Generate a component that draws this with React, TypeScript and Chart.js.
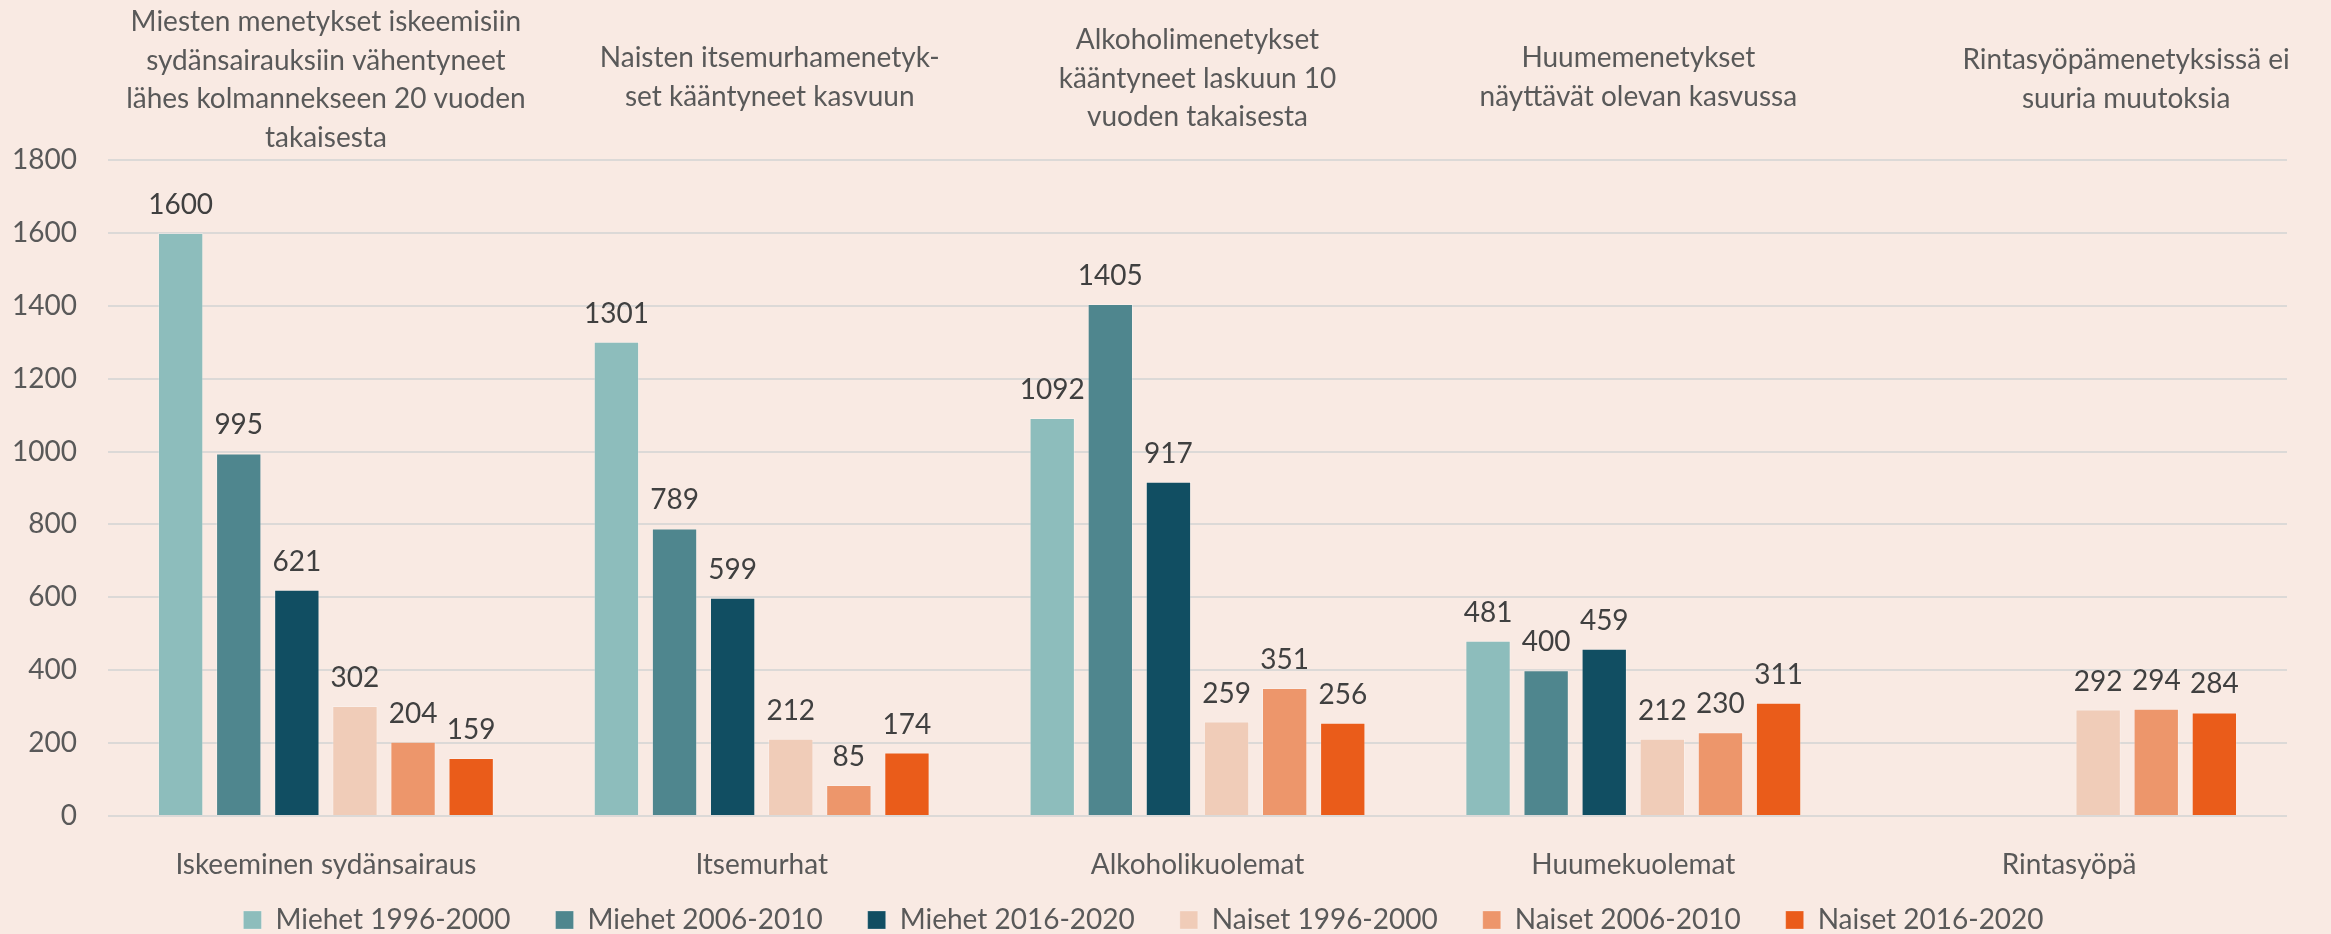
import React, { useEffect, useRef } from "react";
import { Chart, registerables } from "chart.js";

Chart.register(...registerables);

const categories = ["Iskeeminen sydänsairaus", "Itsemurhat", "Alkoholikuolemat", "Huumekuolemat", "Rintasyöpä"];

const seriesNames = [
  "Miehet 1996-2000",
  "Miehet 2006-2010",
  "Miehet 2016-2020",
  "Naiset 1996-2000",
  "Naiset 2006-2010",
  "Naiset 2016-2020",
];

const miehet1996 = [1600, 1301, 1092, 481, null];
const miehet2006 = [995, 789, 1405, 400, null];
const miehet2016 = [621, 599, 917, 459, null];
const naiset1996 = [302, 212, 259, 212, 292];
const naiset2006 = [204, 85, 351, 230, 294];
const naiset2016 = [159, 174, 256, 311, 284];

const seriesColors = ["#8DBDBC", "#4F868E", "#114E62", "#F0CCB8", "#ED966B", "#EA5C1A"];

const yTicks = [0, 200, 400, 600, 800, 1000, 1200, 1400, 1600, 1800];

const notes = [
  ["Miesten menetykset iskeemisiin", "sydänsairauksiin vähentyneet", "lähes kolmannekseen 20 vuoden", "takaisesta"],
  ["Naisten itsemurhamenetyk-", "set kääntyneet kasvuun"],
  ["Alkoholimenetykset", "kääntyneet laskuun 10", "vuoden takaisesta"],
  ["Huumemenetykset", "näyttävät olevan kasvussa"],
  ["Rintasyöpämenetyksissä ei", "suuria muutoksia"],
];

// layout of the note blocks (pixels): x shift from category centre, first baseline
const noteShiftX = [0, 8, 0, 5, 57];
const noteFirstBaseline = [31, 67, 49, 67, 69];
const noteLineHeight = 38.5;

const FONT = "Lato, 'Open Sans', sans-serif";
const FS = 28;
const LEGEND_PAD = 45;

const valueLabels = {
  id: "valueLabels",
  afterDatasetsDraw(chart: any) {
    const ctx = chart.ctx;
    ctx.save();
    ctx.font = `${FS}px ${FONT}`;
    ctx.fillStyle = "#404040";
    ctx.textAlign = "center";
    ctx.textBaseline = "alphabetic";
    chart.data.datasets.forEach((ds: any, di: number) => {
      const meta = chart.getDatasetMeta(di);
      meta.data.forEach((el: any, i: number) => {
        const v = ds.data[i];
        if (v === null || v === undefined) return;
        ctx.fillText(String(v), el.x, el.y - 19);
      });
    });
    ctx.restore();
  },
};

const notesPlugin = {
  id: "notesPlugin",
  afterDraw(chart: any) {
    const ctx = chart.ctx;
    const xs = chart.scales.x;
    ctx.save();
    ctx.font = `${FS}px ${FONT}`;
    ctx.fillStyle = "#595959";
    ctx.textAlign = "center";
    ctx.textBaseline = "alphabetic";
    notes.forEach((lines, i) => {
      const cx = xs.getPixelForValue(i) + noteShiftX[i];
      lines.forEach((t, li) => {
        ctx.fillText(t, cx, noteFirstBaseline[i] + li * noteLineHeight);
      });
    });
    ctx.restore();
  },
};

export default function App() {
  const ref = useRef<HTMLCanvasElement | null>(null);

  useEffect(() => {
    let chart: Chart | null = null;
    let cancelled = false;
    const make = () => {
      if (cancelled || !ref.current) return;
      const allData = [miehet1996, miehet2006, miehet2016, naiset1996, naiset2006, naiset2016];
      chart = new Chart(ref.current, {
        type: "bar",
        data: {
          labels: categories,
          datasets: allData.map((d, i) => ({
            label: seriesNames[i],
            data: d,
            backgroundColor: seriesColors[i],
            borderColor: "rgba(255,255,255,0.25)",
            borderWidth: 1,
            categoryPercentage: 0.8,
            barPercentage: 0.78,
          })),
        },
        options: {
          responsive: false,
          animation: false,
          devicePixelRatio: 1,
          layout: { padding: { top: 160, right: 44, left: 0, bottom: -10 } },
          plugins: {
            tooltip: { enabled: false },
            legend: {
              position: "bottom",
              labels: {
                font: { family: FONT, size: FS },
                color: "#595959",
                boxWidth: 18,
                boxHeight: 18,
                padding: LEGEND_PAD,
              },
            },
          },
          scales: {
            x: {
              grid: { display: false },
              border: { display: false },
              ticks: {
                font: { family: FONT, size: FS },
                color: "#595959",
                padding: 24,
                maxRotation: 0,
                autoSkip: false,
              },
              afterFit: (s: any) => {
                s.height = 90 - LEGEND_PAD;
                // let the category labels extend below the (short) axis box
                s._computeLabelArea = () => undefined;
              },
            },
            y: {
              min: 0,
              max: 1800,
              afterBuildTicks: (s: any) => {
                s.ticks = yTicks.map((v) => ({ value: v }));
              },
              grid: { color: "#DCD9D7", lineWidth: 2, drawTicks: false },
              border: { display: false },
              ticks: {
                font: { family: FONT, size: FS },
                color: "#595959",
                padding: 31,
                callback: (v: any) => String(v),
              },
              afterFit: (s: any) => {
                s.width = 108;
              },
            },
          },
        },
        plugins: [valueLabels, notesPlugin],
      });
    };
    const fontsApi = (document as any).fonts;
    if (fontsApi && fontsApi.load) {
      fontsApi.load(`${FS}px Lato`).then(make, make);
    } else {
      make();
    }
    return () => {
      cancelled = true;
      if (chart) chart.destroy();
    };
  }, []);

  return (
    <div
      style={{
        position: "fixed",
        left: 0,
        top: 0,
        width: 2331,
        height: 934,
        background: "#F9EAE3",
        overflow: "hidden",
      }}
    >
      <canvas ref={ref} width={2331} height={934} style={{ display: "block" }} />
    </div>
  );
}
